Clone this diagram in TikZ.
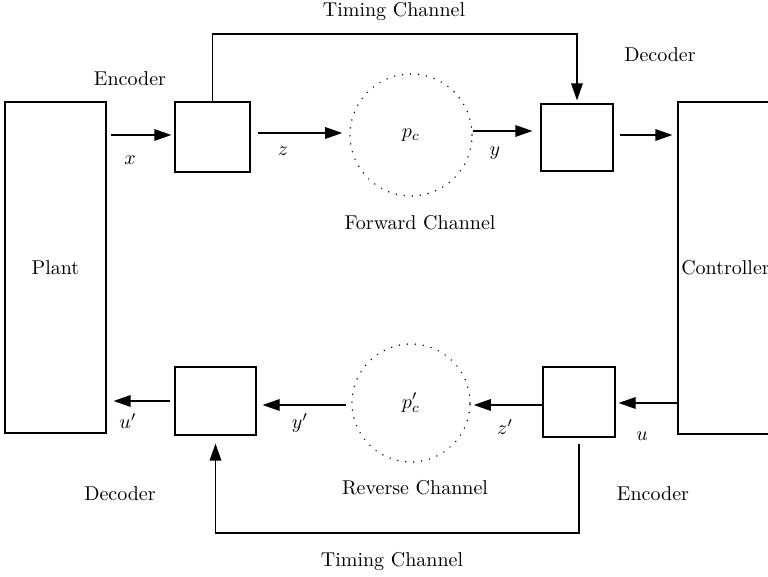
\documentclass[tikz,border=0pt]{standalone}
\usetikzlibrary{arrows.meta}
\begin{document}
\begin{tikzpicture}[x=0.5pt,y=-0.5pt,
  blk/.style={draw,rectangle,line width=0.6pt,inner sep=0pt},
  chan/.style={draw,circle,line width=0.8pt,dash pattern=on 0.01pt off 4pt,line cap=round,inner sep=0pt},
  arr/.style={line width=0.6pt,-{Triangle[length=8.5pt,width=5.8pt]}},
  lbl/.style={inner sep=0pt}]
\useasboundingbox (0,0) rectangle (768,577);
\clip (0,0) rectangle (768,577);

% plant and controller
\node[blk,minimum width=50.5pt,minimum height=165.5pt] (plant) at (55.5,267.5) {Plant};
\node[blk,minimum width=47.5pt,minimum height=166pt] (ctrl) at (725.5,268) {Controller};

% forward path: encoder, channel, decoder
\node[blk,minimum width=37.5pt,minimum height=35pt] (enc1) at (212.5,137) {};
\node[chan,minimum size=61pt] (fch) at (411,135) {};
\node[blk,minimum width=36pt,minimum height=33.5pt] (dec1) at (577,137.5) {};

% reverse path: encoder, channel, decoder
\node[blk,minimum width=36pt,minimum height=35pt] (enc2) at (579,402) {};
\node[chan,minimum size=59pt] (rch) at (411,403) {};
\node[blk,minimum width=40.5pt,minimum height=34pt] (dec2) at (215.5,401) {};

% forward connectors
\draw[arr,shorten <=2pt,shorten >=1.5pt] (plant.east |- 0,135) -- (enc1.west |- 0,135);
\draw[arr,shorten <=3.5pt,shorten >=3.5pt] (enc1.east |- 0,133) -- (fch.west |- 0,133);
\draw[arr,shorten >=4pt] (fch.east |- 0,131) -- (dec1.west |- 0,131);
\draw[arr,shorten <=3pt,shorten >=2.5pt] (dec1.east |- 0,135) -- (ctrl.west |- 0,135);

% reverse connectors
\draw[arr,shorten >=1.5pt] (ctrl.west |- 0,403) -- (enc2.east |- 0,403);
\draw[arr,shorten >=1.5pt] (enc2.west |- 0,405) -- (rch.east |- 0,405);
\draw[arr,shorten <=2.5pt,shorten >=3pt] (rch.west |- 0,405) -- (dec2.east |- 0,405);
\draw[arr,shorten <=2pt,shorten >=3.5pt] (dec2.west |- 0,401) -- (plant.east |- 0,401);

% timing channels
\coordinate (ttop) at (0,34);
\coordinate (tbot) at (0,533);
\draw[arr,shorten >=1.5pt] (enc1.north) -- (enc1.north |- ttop) -- (dec1.north |- ttop) -- (dec1.north);
\draw[arr,shorten >=4pt] ([yshift=-3pt]enc2.south) -- (enc2.south |- tbot) -- (dec2.south |- tbot) -- (dec2.south);

% channel symbols
\node[lbl] (pc) at (fch) {$p_c$};
\node[lbl] (pcr) at (rch) {$p'_c$};

% signal labels
\node[lbl] (lx) at (130,160) {$x$};
\node[lbl] (lz) at (283,151) {$z$};
\node[lbl] (ly) at (495,153) {$y$};
\node[lbl] (lu) at (642,436) {$u$};
\node[lbl] (lzp) at (505,427) {$z'$};
\node[lbl] (lyp) at (300,423) {$y'$};
\node[lbl] (lup) at (128,421) {$u'$};

% block and channel captions
\node[lbl] (ttl) at (394,12) {Timing Channel};
\node[lbl] (tbl) at (392,562) {Timing Channel};
\node[lbl] (encl1) at (130,79) {Encoder};
\node[lbl] (decl1) at (660,55) {Decoder};
\node[lbl] (fchl) at (420,223) {Forward Channel};
\node[lbl] (rchl) at (415,488) {Reverse Channel};
\node[lbl] (decl2) at (120,494) {Decoder};
\node[lbl] (encl2) at (653,494) {Encoder};
\end{tikzpicture}
\end{document}
